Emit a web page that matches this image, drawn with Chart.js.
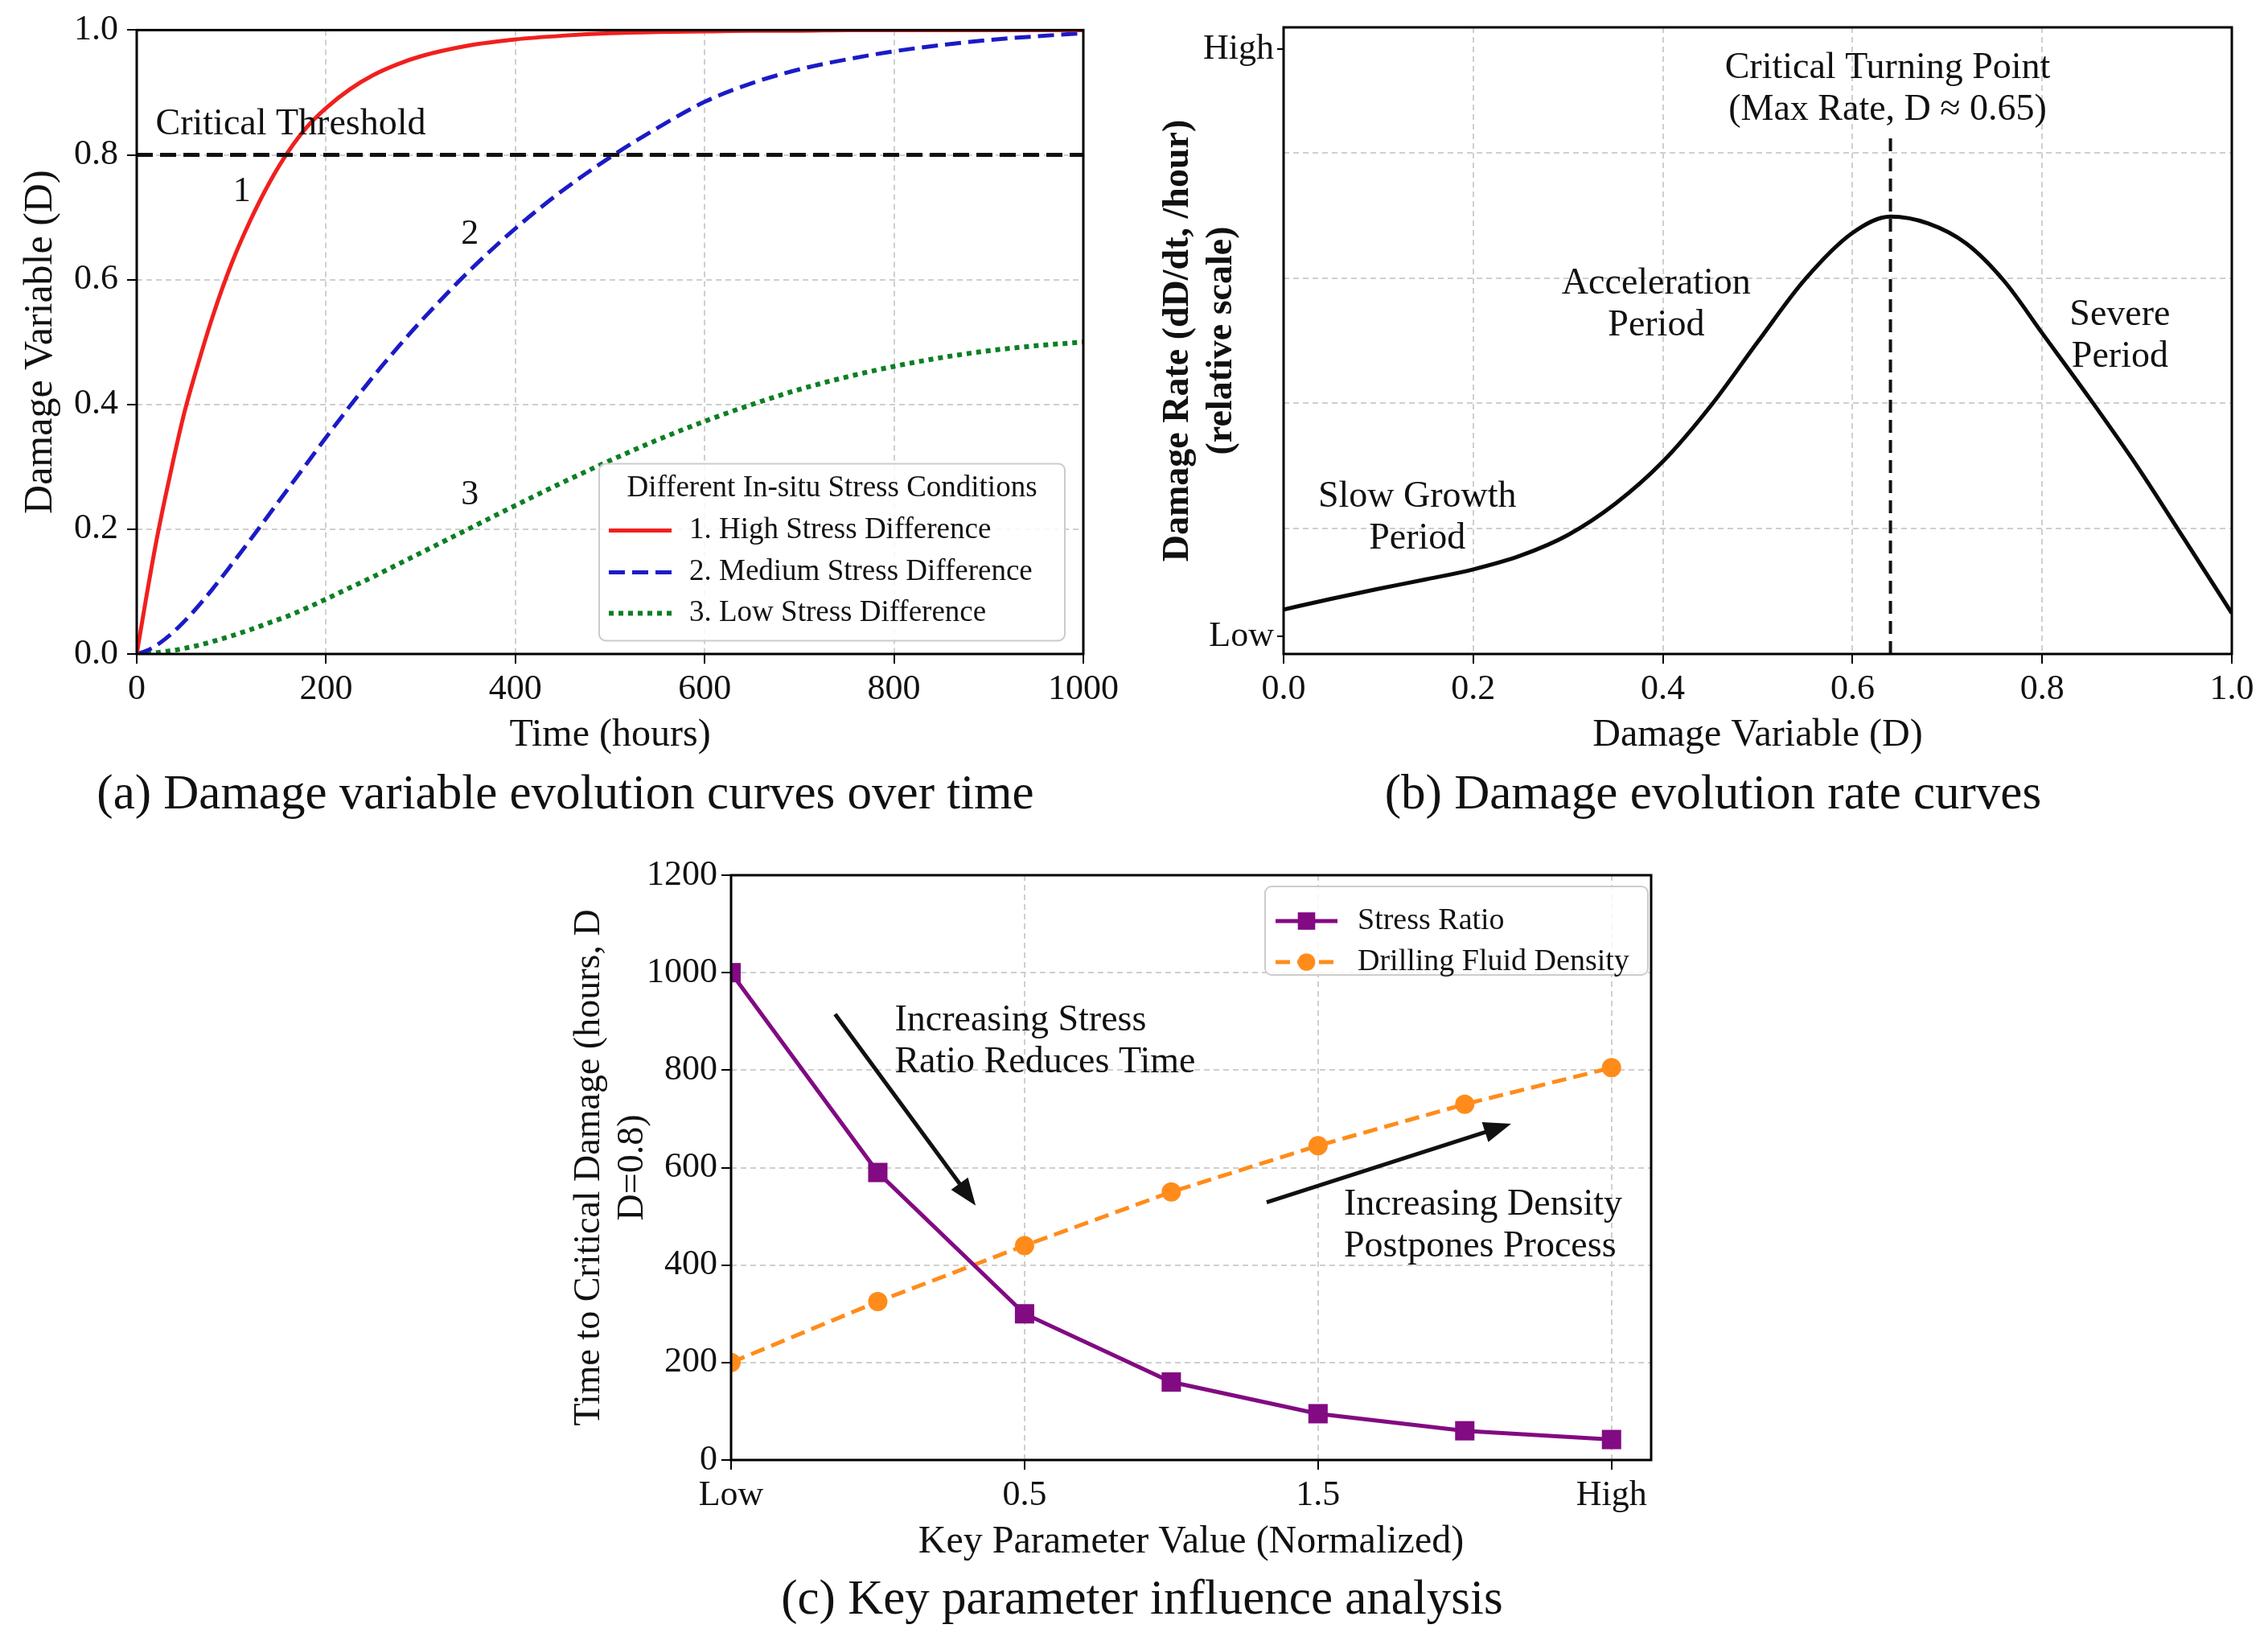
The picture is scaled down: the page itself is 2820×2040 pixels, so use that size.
<!DOCTYPE html>
<html>
<head>
<meta charset="utf-8">
<title>Damage evolution</title>
<script src="https://cdn.jsdelivr.net/npm/chart.js@4.4.1/dist/chart.umd.min.js"></script>
<style>
  html, body { margin: 0; padding: 0; background: #fff; }
  body { width: 2820px; height: 2040px; position: relative; overflow: hidden; }
  canvas { position: absolute; }
  .caption {
    position: absolute; width: 1600px; text-align: center;
    font-family: "Liberation Serif", "Times New Roman", serif;
    font-size: 61px; line-height: 66px; color: #111;
  }
</style>
</head>
<body>
<canvas id="chartA" width="1430" height="960" style="left:0px;top:0px"></canvas>
<canvas id="chartB" width="1420" height="960" style="left:1400px;top:0px"></canvas>
<canvas id="chartC" width="1420" height="1000" style="left:700px;top:1040px"></canvas>
<div class="caption" style="left:-97px;top:952px">(a) Damage variable evolution curves over time</div>
<div class="caption" style="left:1330px;top:952px">(b) Damage evolution rate curves</div>
<div class="caption" style="left:620px;top:1953px">(c) Key parameter influence analysis</div>

<script>
// (a) damage variable vs time
const timeHours = [0, 10, 20, 30, 40, 50, 60, 80, 100, 120, 140, 160, 180, 200, 225, 250, 275, 300,
  350, 400, 450, 500, 550, 600, 650, 700, 750, 800, 850, 900, 950, 1000];
const highStress = [0, 0.09, 0.175, 0.25, 0.32, 0.385, 0.44, 0.54, 0.625, 0.695, 0.755, 0.805, 0.845, 0.875,
  0.905, 0.928, 0.945, 0.958, 0.975, 0.985, 0.991, 0.995, 0.997, 0.998, 0.999, 0.999, 1, 1, 1, 1, 1, 1];
const mediumStress = [0, 0.005, 0.013, 0.024, 0.037, 0.052, 0.068, 0.104, 0.143, 0.183, 0.224, 0.265, 0.306, 0.347,
  0.397, 0.445, 0.49, 0.533, 0.612, 0.682, 0.743, 0.796, 0.843, 0.885, 0.915, 0.937, 0.953, 0.966, 0.976, 0.984, 0.99, 0.995];
const lowStress = [0, 0.001, 0.002, 0.004, 0.006, 0.009, 0.012, 0.02, 0.029, 0.039, 0.05, 0.061, 0.074, 0.088,
  0.106, 0.124, 0.143, 0.162, 0.2, 0.238, 0.275, 0.31, 0.343, 0.373, 0.4, 0.424, 0.444, 0.461, 0.475, 0.486, 0.494, 0.5];
const criticalThreshold = 0.8;

// (b) damage rate vs damage variable (relative scale 0..1)
const damageLevels = [0, 0.05, 0.1, 0.15, 0.2, 0.25, 0.3, 0.35, 0.4, 0.45, 0.5, 0.55, 0.6, 0.64,
  0.68, 0.72, 0.76, 0.8, 0.85, 0.9, 0.95, 1.0];
const damageRate = [0.071, 0.088, 0.104, 0.119, 0.135, 0.157, 0.19, 0.24, 0.307, 0.395, 0.498, 0.598, 0.672, 0.698,
  0.687, 0.655, 0.595, 0.512, 0.408, 0.3, 0.183, 0.065];
const turningPointD = 0.64;
const turningLineTop = 0.83;
const rateTickValues = [0.028, 0.965];
const rateTickLabels = ['Low', 'High'];

// (c) time to critical damage vs normalized parameter
const paramTickLabels = ['Low', '', '0.5', '', '1.5', '', 'High'];
const stressRatioTime = [1000, 590, 300, 160, 95, 60, 42];
const fluidDensityTime = [200, 325, 440, 550, 645, 730, 805];

const SERIF = '"Liberation Serif", "Times New Roman", serif';
const INK = '#111';
const pairs = (xs, ys) => xs.map((x, i) => ({ x: x, y: ys[i] }));

// full box round the plot, like matplotlib spines
const framePlugin = {
  id: 'frame',
  afterDatasetsDraw(chart) {
    const { ctx, chartArea: a } = chart;
    ctx.save();
    ctx.strokeStyle = '#000';
    ctx.lineWidth = 3;
    ctx.strokeRect(a.left, a.top, a.right - a.left, a.bottom - a.top);
    ctx.restore();
  }
};

// text labels and arrows placed in data coordinates
const notesPlugin = {
  id: 'notes',
  afterDatasetsDraw(chart, args, opts) {
    const { ctx } = chart;
    const sx = chart.scales.x, sy = chart.scales.y;
    ctx.save();
    ctx.fillStyle = INK;
    ctx.strokeStyle = INK;
    (opts.arrows || []).forEach(a => {
      const x1 = sx.getPixelForValue(a.from[0]), y1 = sy.getPixelForValue(a.from[1]);
      const x2 = sx.getPixelForValue(a.to[0]), y2 = sy.getPixelForValue(a.to[1]);
      const ang = Math.atan2(y2 - y1, x2 - x1);
      const head = 34, half = 13;
      ctx.lineWidth = 5;
      ctx.beginPath();
      ctx.moveTo(x1, y1);
      ctx.lineTo(x2 - Math.cos(ang) * head * 0.8, y2 - Math.sin(ang) * head * 0.8);
      ctx.stroke();
      ctx.beginPath();
      ctx.moveTo(x2, y2);
      ctx.lineTo(x2 - Math.cos(ang) * head - Math.sin(ang) * half, y2 - Math.sin(ang) * head + Math.cos(ang) * half);
      ctx.lineTo(x2 - Math.cos(ang) * head + Math.sin(ang) * half, y2 - Math.sin(ang) * head - Math.cos(ang) * half);
      ctx.closePath();
      ctx.fill();
    });
    (opts.texts || []).forEach(t => {
      ctx.font = (t.size || opts.size || 46) + 'px ' + SERIF;
      ctx.textAlign = t.align || 'center';
      ctx.textBaseline = 'middle';
      const px = sx.getPixelForValue(t.x), py = sy.getPixelForValue(t.y);
      t.lines.forEach((line, i) => ctx.fillText(line, px, py + i * (opts.lineGap || 52)));
    });
    ctx.restore();
  }
};

// framed legend drawn inside the plot
const boxLegendPlugin = {
  id: 'boxLegend',
  afterDraw(chart, args, o) {
    const { ctx, chartArea: a } = chart;
    const left = a.left + o.left, top = a.top + o.top;
    ctx.save();
    ctx.beginPath();
    if (ctx.roundRect) ctx.roundRect(left, top, o.width, o.height, 8);
    else ctx.rect(left, top, o.width, o.height);
    ctx.fillStyle = 'rgba(255,255,255,0.85)';
    ctx.fill();
    ctx.strokeStyle = '#cccccc';
    ctx.lineWidth = 2;
    ctx.stroke();
    ctx.fillStyle = INK;
    ctx.textBaseline = 'middle';
    if (o.title) {
      ctx.font = o.fontSize + 'px ' + SERIF;
      ctx.textAlign = 'center';
      ctx.fillText(o.title, left + o.width / 2, top + o.titleY);
    }
    const items = chart.data.datasets.filter(ds => !ds.noLegend);
    items.forEach((ds, i) => {
      const y = top + o.rows[i];
      ctx.strokeStyle = ds.borderColor;
      ctx.lineWidth = ds.borderWidth;
      ctx.setLineDash(ds.borderDash || []);
      ctx.beginPath();
      ctx.moveTo(left + o.sample[0], y);
      ctx.lineTo(left + o.sample[1], y);
      ctx.stroke();
      ctx.setLineDash([]);
      if (ds.pointRadius) {
        ctx.fillStyle = ds.pointBackgroundColor;
        ctx.strokeStyle = ds.pointBackgroundColor;
        Chart.helpers.drawPoint(ctx, { pointStyle: ds.pointStyle, radius: ds.pointRadius * 0.9, rotation: 0, borderWidth: 0 },
          left + (o.sample[0] + o.sample[1]) / 2, y);
      }
      ctx.fillStyle = INK;
      ctx.font = o.fontSize + 'px ' + SERIF;
      ctx.textAlign = 'left';
      ctx.fillText(ds.label, left + o.textX, y);
    });
    ctx.restore();
  }
};

function tickFont() { return { family: SERIF, size: 44 }; }

function gridOpts(extra) {
  return Object.assign({
    color: '#cfcfcf', lineWidth: 2, drawTicks: true, tickLength: 12,
    tickColor: '#000', tickWidth: 2, tickBorderDash: []
  }, extra || {});
}

const borderOpts = { display: false, dash: [7, 5] };

function xTitle(text) {
  return { display: true, text: text, color: INK, font: { family: SERIF, size: 48 }, padding: { top: 0, bottom: 0 } };
}

function yTitle(text, size, weight) {
  return { display: true, text: text, color: INK, font: { family: SERIF, size: size, weight: weight || 'normal', lineHeight: 1.18 },
    padding: { top: 0, bottom: 0 } };
}

const common = {
  responsive: false,
  animation: false,
  devicePixelRatio: 1,
  events: []
};

// ---------- (a) ----------
new Chart(document.getElementById('chartA'), {
  type: 'line',
  data: {
    datasets: [
      { label: 'Critical Threshold', noLegend: true, data: pairs([0, 1000], [criticalThreshold, criticalThreshold]),
        borderColor: '#111', borderWidth: 5, borderDash: [20, 9], pointRadius: 0 },
      { label: '1. High Stress Difference', data: pairs(timeHours, highStress),
        borderColor: '#f0201e', borderWidth: 5, pointRadius: 0, cubicInterpolationMode: 'monotone' },
      { label: '2. Medium Stress Difference', data: pairs(timeHours, mediumStress),
        borderColor: '#1b1bc6', borderWidth: 5, borderDash: [20, 9], pointRadius: 0, cubicInterpolationMode: 'monotone' },
      { label: '3. Low Stress Difference', data: pairs(timeHours, lowStress),
        borderColor: '#0c7f24', borderWidth: 6, borderDash: [6, 6], pointRadius: 0, cubicInterpolationMode: 'monotone' }
    ]
  },
  options: Object.assign({}, common, {
    layout: { padding: { left: 21, top: 9, right: 83, bottom: 17 } },
    plugins: {
      legend: { display: false },
      tooltip: { enabled: false },
      notes: {
        size: 46,
        texts: [
          { x: 20, y: 0.848, lines: ['Critical Threshold'], align: 'left' },
          { x: 111, y: 0.741, lines: ['1'], size: 44 },
          { x: 352, y: 0.672, lines: ['2'], size: 44 },
          { x: 352, y: 0.255, lines: ['3'], size: 44 }
        ]
      },
      boxLegend: {
        left: 575, top: 539, width: 579, height: 220, title: 'Different In-situ Stress Conditions',
        titleY: 31, rows: [83, 135, 186], sample: [12, 90], textX: 112, fontSize: 37
      }
    },
    scales: {
      x: {
        type: 'linear', min: 0, max: 1000,
        ticks: { stepSize: 200, color: INK, font: tickFont(), padding: 6, maxRotation: 0, callback: v => String(v) },
        grid: gridOpts(), border: borderOpts,
        title: xTitle('Time (hours)'),
        afterFit(s) { s.height = 130; }
      },
      y: {
        min: 0, max: 1,
        ticks: { stepSize: 0.2, color: INK, font: tickFont(), padding: 11, callback: v => v.toFixed(1) },
        grid: gridOpts(), border: borderOpts,
        title: yTitle('Damage Variable (D)', 50),
        afterFit(s) { s.width = 149; }
      }
    }
  }),
  plugins: [framePlugin, notesPlugin, boxLegendPlugin]
});

// ---------- (b) ----------
new Chart(document.getElementById('chartB'), {
  type: 'line',
  data: {
    datasets: [
      { label: 'Turning point', noLegend: true, data: pairs([turningPointD, turningPointD], [0, turningLineTop]),
        borderColor: '#111', borderWidth: 4, borderDash: [16, 9], pointRadius: 0 },
      { label: 'Damage rate', data: pairs(damageLevels, damageRate),
        borderColor: '#0a0a0a', borderWidth: 5, pointRadius: 0, cubicInterpolationMode: 'monotone' }
    ]
  },
  options: Object.assign({}, common, {
    layout: { padding: { left: 38, top: 34, right: 45, bottom: 17 } },
    plugins: {
      legend: { display: false },
      tooltip: { enabled: false },
      notes: {
        size: 46, lineGap: 52,
        texts: [
          { x: 0.637, y: 0.935, lines: ['Critical Turning Point', '(Max Rate, D \u2248 0.65)'] },
          { x: 0.393, y: 0.591, lines: ['Acceleration', 'Period'] },
          { x: 0.882, y: 0.541, lines: ['Severe', 'Period'] },
          { x: 0.141, y: 0.251, lines: ['Slow Growth', 'Period'] }
        ]
      }
    },
    scales: {
      x: {
        type: 'linear', min: 0, max: 1,
        ticks: { stepSize: 0.2, color: INK, font: tickFont(), padding: 6, maxRotation: 0, callback: v => v.toFixed(1) },
        grid: gridOpts(), border: borderOpts,
        title: xTitle('Damage Variable (D)'),
        afterFit(s) { s.height = 130; }
      },
      y: {
        min: 0, max: 1,
        afterBuildTicks(s) {
          s.ticks = [rateTickValues[0], 0.2, 0.4, 0.6, 0.8, rateTickValues[1]].map(v => ({ value: v }));
        },
        ticks: {
          color: INK, font: tickFont(), padding: 4,
          callback: v => { const i = rateTickValues.indexOf(v); return i >= 0 ? rateTickLabels[i] : ''; }
        },
        grid: gridOpts({
          color: c => (c.tick && rateTickValues.includes(c.tick.value)) ? 'rgba(0,0,0,0)' : '#cfcfcf',
          tickColor: c => (c.tick && rateTickValues.includes(c.tick.value)) ? '#000' : 'rgba(0,0,0,0)',
          tickLength: 8
        }),
        border: borderOpts,
        title: yTitle(['Damage Rate (dD/dt, /hour)', '(relative scale)'], 46, 'bold'),
        afterFit(s) { s.width = 158; }
      }
    }
  }),
  plugins: [framePlugin, notesPlugin]
});

// ---------- (c) ----------
new Chart(document.getElementById('chartC'), {
  type: 'line',
  data: {
    datasets: [
      { label: 'Stress Ratio', data: pairs(paramTickLabels.map((l, i) => i), stressRatioTime),
        borderColor: '#820a82', borderWidth: 5, pointStyle: 'rect', pointRadius: 17,
        pointBackgroundColor: '#820a82', pointBorderWidth: 0, tension: 0 },
      { label: 'Drilling Fluid Density', data: pairs(paramTickLabels.map((l, i) => i), fluidDensityTime),
        borderColor: '#ff8c1a', borderWidth: 5, borderDash: [18, 9], pointStyle: 'circle', pointRadius: 12,
        pointBackgroundColor: '#ff8c1a', pointBorderWidth: 0, tension: 0 }
    ]
  },
  options: Object.assign({}, common, {
    layout: { padding: { left: 6, top: 48, right: 67, bottom: 94 } },
    plugins: {
      legend: { display: false },
      tooltip: { enabled: false },
      notes: {
        size: 46, lineGap: 52,
        texts: [
          { x: 1.115, y: 902, lines: ['Increasing Stress', 'Ratio Reduces Time'], align: 'left' },
          { x: 4.176, y: 524, lines: ['Increasing Density', 'Postpones Process'], align: 'left' }
        ],
        arrows: [
          { from: [0.709, 915], to: [1.667, 522] },
          { from: [3.65, 529], to: [5.316, 690] }
        ]
      },
      boxLegend: {
        left: 664, top: 14, width: 476, height: 110, rows: [43, 94], sample: [13, 90], textX: 115, fontSize: 38
      }
    },
    scales: {
      x: {
        type: 'linear', min: 0, max: 6.27,
        afterBuildTicks(s) {
          s.ticks = paramTickLabels.map((l, i) => ({ value: i, label: l })).filter(t => t.label);
        },
        ticks: { color: INK, font: tickFont(), padding: 6, maxRotation: 0, callback: v => paramTickLabels[v] || '' },
        grid: gridOpts(), border: borderOpts,
        title: xTitle('Key Parameter Value (Normalized)'),
        afterFit(s) { s.height = 131; }
      },
      y: {
        min: 0, max: 1200,
        ticks: { stepSize: 200, color: INK, font: tickFont(), padding: 5, callback: v => String(v) },
        grid: gridOpts(), border: borderOpts,
        title: yTitle(['Time to Critical Damage (hours, D', 'D=0.8)'], 46),
        afterFit(s) { s.width = 203; }
      }
    }
  }),
  plugins: [framePlugin, notesPlugin, boxLegendPlugin]
});
</script>
</body>
</html>
